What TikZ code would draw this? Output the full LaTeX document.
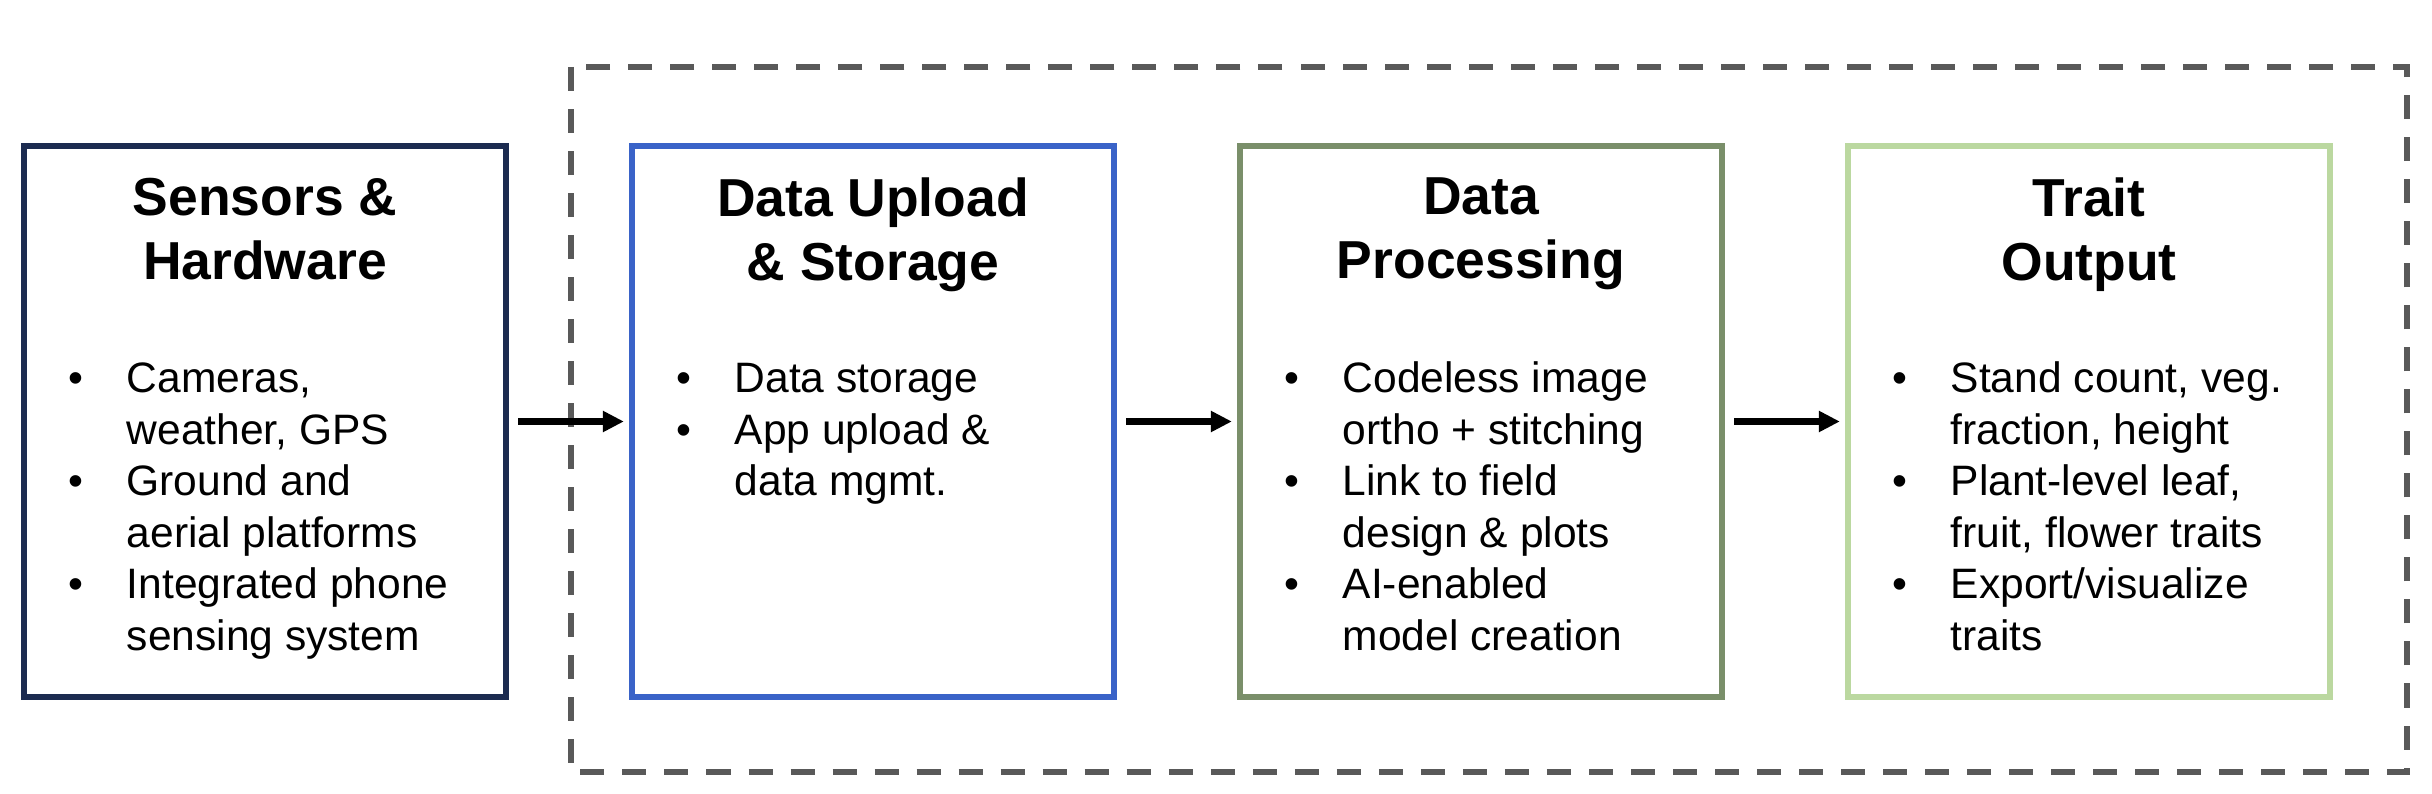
\documentclass[tikz,border=0pt]{standalone}
\usepackage{fontspec}
\setmainfont{Liberation Sans}
\usepackage{tikz}
\usetikzlibrary{arrows.meta}
\definecolor{navyline}{RGB}{28,43,80}
\definecolor{blueline}{RGB}{58,99,200}
\definecolor{oliveline}{RGB}{122,143,106}
\definecolor{paleline}{RGB}{187,216,160}
\definecolor{framegray}{RGB}{89,89,89}
\newcommand{\bitem}{\makebox[5.8mm][l]{\textbullet}}

\begin{document}
\begin{tikzpicture}[x=0.01cm,y=-0.01cm,
  stage/.style={draw,line width=0.6mm,minimum width=4.82cm,minimum height=5.51cm,inner sep=0pt},
  stagetitle/.style={anchor=north,align=center,inner sep=0pt,font=\fontsize{15.2}{18.2}\selectfont\bfseries},
  stagebody/.style={anchor=base west,inner sep=0pt,font=\fontsize{12.1}{14.62}\selectfont},
  flow/.style={-{Triangle[length=2.1mm,width=2.0mm]},line width=0.6mm,shorten <=0.9mm,shorten >=0.5mm},
  groupframe/.style={draw=framegray,line width=0.6mm,dash pattern=on 2.4mm off 1.8mm}]
 	\useasboundingbox (0,0) rectangle (2432,794);
 	\draw[groupframe] (571,67) rectangle (2407,772);
 	% the four stages
 	\node[stage,draw=navyline] (sensors) at (265,421.5) {};
 	\node[stage,draw=blueline] (upload) at (873,421.5) {};
 	\node[stage,draw=oliveline] (processing) at (1481,421.5) {};
 	\node[stage,draw=paleline] (traits) at (2089,421.5) {};
 	\node[stagetitle] (sensorstitle) at (265,177) {Sensors \&\\Hardware};
 	\node[stagetitle] (uploadtitle) at (873,177) {Data Upload\\\& Storage};
 	\node[stagetitle] (processingtitle) at (1481,177) {Data\\Processing};
 	\node[stagetitle] (traitstitle) at (2089,177) {Trait\\Output};
 	\node[stagebody] (sensorsbody) at (68,393) {\begin{tabular}[t]{@{}l@{}l@{}}
 		\bitem & Cameras,\\ & weather, GPS\\
 		\bitem & Ground and\\ & aerial platforms\\
 		\bitem & Integrated phone\\ & sensing system\end{tabular}};
 	\node[stagebody] (uploadbody) at (676,393) {\begin{tabular}[t]{@{}l@{}l@{}}
 		\bitem & Data storage\\
 		\bitem & App upload \&\\ & data mgmt.\end{tabular}};
 	\node[stagebody] (processingbody) at (1284,393) {\begin{tabular}[t]{@{}l@{}l@{}}
 		\bitem & Codeless image\\ & ortho + stitching\\
 		\bitem & Link to field\\ & design \& plots\\
 		\bitem & AI-enabled\\ & model creation\end{tabular}};
 	\node[stagebody] (traitsbody) at (1892,393) {\begin{tabular}[t]{@{}l@{}l@{}}
 		\bitem & Stand count, veg.\\ & fraction, height\\
 		\bitem & Plant-level leaf,\\ & fruit, flower traits\\
 		\bitem & Export/visualize\\ & traits\end{tabular}};
 	% arrows between stages
 	\foreach \a/\b in {sensors/upload,upload/processing,processing/traits}
 	\draw[flow] (\a) -- (\b);
\end{tikzpicture}
\end{document}
